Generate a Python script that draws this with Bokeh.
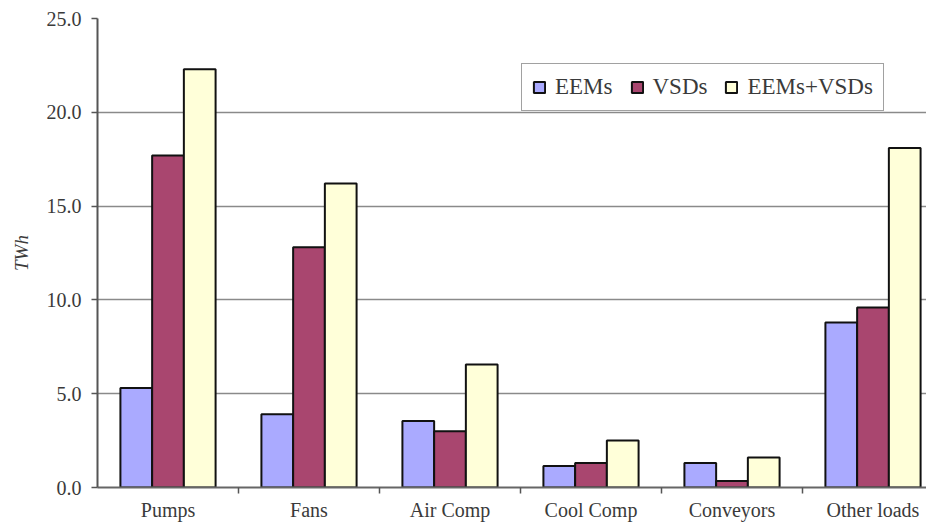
from bokeh.plotting import figure
from bokeh.models import Range1d, FixedTicker, ColumnDataSource, Legend, LegendItem
from bokeh.embed import file_html
from bokeh.resources import INLINE

categories = ["Pumps", "Fans", "Air Comp", "Cool Comp", "Conveyors", "Other loads"]
eems = [5.3, 3.9, 3.55, 1.15, 1.3, 8.8]
vsds = [17.7, 12.8, 3.0, 1.3, 0.35, 9.6]
both = [22.3, 16.2, 6.55, 2.5, 1.6, 18.1]
series_names = ["EEMs", "VSDs", "EEMs+VSDs"]
colors = ["#aaaaff", "#a9466f", "#ffffd9"]
y_ticks = [0, 5, 10, 15, 20, 25]

FONT = "Liberation Serif"
TXT = "#3a3a3a"

p = figure(width=926, height=523, output_backend="svg", toolbar_location=None,
           x_range=Range1d(0, 829 / 141.0), y_range=Range1d(0, 25),
           min_border_left=97, min_border_right=0, min_border_top=18, min_border_bottom=35)
p.outline_line_color = None
p.background_fill_color = "white"
p.border_fill_color = "white"

centers = [i + 0.5 for i in range(len(categories))]
w = 0.225
renderers = []
for k, (vals, col) in enumerate(zip([eems, vsds, both], colors)):
    xs = [c + (k - 1) * w for c in centers]
    src = ColumnDataSource(dict(x=xs, top=vals))
    r = p.vbar(x="x", top="top", width=w, bottom=0, source=src,
               fill_color=col, line_color="#111111", line_width=2)
    renderers.append(r)

# x axis
p.xaxis.ticker = FixedTicker(ticks=centers, minor_ticks=[1, 2, 3, 4, 5])
p.xaxis.major_label_overrides = {c: n for c, n in zip(centers, categories)}
p.xaxis.major_tick_out = 0
p.xaxis.major_tick_in = 0
p.xaxis.minor_tick_out = 6
p.xaxis.minor_tick_in = 0
p.xaxis.minor_tick_line_color = "#555555"
p.xaxis.minor_tick_line_width = 1.5
p.xaxis.axis_line_color = "#666666"
p.xaxis.axis_line_width = 2
p.xaxis.major_label_standoff = 5
p.xaxis.major_label_text_font = FONT
p.xaxis.major_label_text_font_size = "20px"
p.xaxis.major_label_text_color = TXT

# y axis
p.yaxis.ticker = FixedTicker(ticks=y_ticks, minor_ticks=[])
p.yaxis.major_label_overrides = {t: "%.1f" % t for t in y_ticks}
p.yaxis.major_tick_out = 6
p.yaxis.major_tick_in = 0
p.yaxis.major_tick_line_color = "#555555"
p.yaxis.major_tick_line_width = 1.5
p.yaxis.axis_line_color = "#555555"
p.yaxis.axis_line_width = 2
p.yaxis.major_label_standoff = 10
p.yaxis.major_label_text_font = FONT
p.yaxis.major_label_text_font_size = "20px"
p.yaxis.major_label_text_color = TXT
p.yaxis.axis_label = "TWh"
p.yaxis.axis_label_text_font = FONT
p.yaxis.axis_label_text_font_style = "italic"
p.yaxis.axis_label_text_font_size = "19px"
p.yaxis.axis_label_text_color = TXT
p.yaxis.axis_label_standoff = 12

p.xgrid.grid_line_color = None
p.ygrid.ticker = FixedTicker(ticks=[5, 10, 15, 20, 25])
p.ygrid.grid_line_color = "#8a8a8a"
p.ygrid.grid_line_width = 1.5

legend = Legend(items=[LegendItem(label=n, renderers=[r]) for n, r in zip(series_names, renderers)],
                orientation="horizontal", location=(424, 376))
legend.label_text_font = FONT
legend.label_text_font_size = "23px"
legend.label_text_color = TXT
legend.glyph_width = 14
legend.glyph_height = 14
legend.label_standoff = 9
legend.spacing = 17
legend.padding = 10
legend.margin = 0
legend.border_line_color = "#444444"
legend.border_line_width = 1.5
legend.background_fill_color = "white"
legend.background_fill_alpha = 1
p.add_layout(legend, "center")

open("out.html", "w").write(file_html(p, INLINE))
